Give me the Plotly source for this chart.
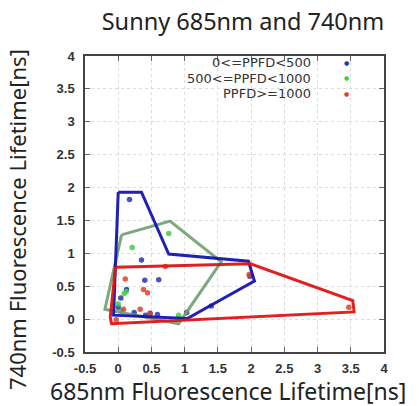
import plotly.graph_objects as go

# ---- data ----
blue_x = [0.17, 0.35, 0.40, 0.61, 0.125, 0.04, 0.0, 0.24, 0.41, 0.59, 1.03, 1.40, 1.98, 0.48]
blue_y = [1.82, 0.90, 0.59, 0.60, 0.45, 0.32, 0.18, 0.10, 0.06, 0.07, 0.10, 0.20, 0.65, 0.09]
green_x = [0.21, 0.76, 0.09, 0.0, 0.91, 0.12, 0.05]
green_y = [1.09, 1.30, 0.39, 0.23, 0.06, 0.42, 0.12]
red_x = [0.71, 0.106, 0.38, 0.44, 0.08, 0.33, 0.48, 3.47, 1.97, -0.03]
red_y = [0.80, 0.61, 0.45, 0.40, 0.15, 0.15, 0.07, 0.18, 0.68, -0.01]

blue_hull_x = [0.0, 0.35, 0.76, 1.96, 2.05, 1.04, -0.07, 0.0]
blue_hull_y = [1.93, 1.93, 0.99, 0.88, 0.58, 0.01, 0.06, 1.93]
green_hull_x = [0.05, 0.78, 1.55, 0.91, -0.20, 0.05]
green_hull_y = [1.28, 1.49, 0.87, -0.07, 0.15, 1.28]
red_hull_x = [-0.04, 1.99, 3.53, 3.55, -0.10, -0.12, -0.04]
red_hull_y = [0.79, 0.84, 0.28, 0.11, -0.07, 0.03, 0.79]

legend_labels = ["0<=PPFD<500", "500<=PPFD<1000", "PPFD>=1000"]
x_ticks = [-0.5, 0, 0.5, 1, 1.5, 2, 2.5, 3, 3.5, 4]
y_ticks = [-0.5, 0, 0.5, 1, 1.5, 2, 2.5, 3, 3.5, 4]

BLUE, GREEN, RED = "#2a35b0", "#3fcf3f", "#e0402a"
colors = [BLUE, GREEN, RED]

W, H = 419, 406
ML, MR, MT, MB = 85, 35, 56, 54
PW, PH = W - ML - MR, H - MT - MB

fig = go.Figure()
for xs, ys, c in [(blue_x, blue_y, BLUE), (green_x, green_y, GREEN), (red_x, red_y, RED)]:
    fig.add_trace(go.Scatter(x=xs, y=ys, mode="markers",
                             marker=dict(color=c, size=5.5, opacity=0.85),
                             showlegend=False, hoverinfo="skip"))
for xs, ys, c in [(green_hull_x, green_hull_y, "rgba(110,160,110,0.9)"),
                  (blue_hull_x, blue_hull_y, "rgba(20,20,175,0.95)"),
                  (red_hull_x, red_hull_y, "rgba(225,20,20,0.95)")]:
    fig.add_trace(go.Scatter(x=xs, y=ys, mode="lines",
                             line=dict(color=c, width=3),
                             showlegend=False, hoverinfo="skip"))

# legend drawn as text annotations (labels right-aligned, markers on the right)
for i, (lab, c) in enumerate(zip(legend_labels, colors)):
    ypix = 62 + i * 15.6
    ypos = 1 - (ypix - MT) / PH
    fig.add_annotation(xref="paper", yref="paper", x=(312 - ML) / PW, y=ypos, text=lab,
                       showarrow=False, xanchor="right", yanchor="middle",
                       height=14, borderpad=0,
                       font=dict(family="DejaVu Sans", size=13, color="#333"))
    fig.add_annotation(xref="paper", yref="paper", x=(346 - ML) / PW, y=ypos, text="●",
                       showarrow=False, xanchor="center", yanchor="middle",
                       font=dict(family="DejaVu Sans", size=6, color=c))

# axis titles as annotations
fig.add_annotation(xref="paper", yref="paper", x=(228 - ML) / PW, y=-(391 - (H - MB)) / PH,
                   text="685nm Fluorescence Lifetime[ns]", showarrow=False,
                   xanchor="center", yanchor="middle",
                   font=dict(family="Noto Sans", size=23, color="#222"))
fig.add_annotation(xref="paper", yref="paper", x=-(ML - 17) / PW, y=(H - MB - 220) / PH,
                   text="740nm Fluorescence Lifetime[ns]", showarrow=False, textangle=-90,
                   xanchor="center", yanchor="middle",
                   font=dict(family="Noto Sans", size=22, color="#222"))

axis_common = dict(showline=True, linecolor="#444", linewidth=1.5, mirror="ticks",
                   ticks="inside", ticklen=5, tickcolor="#666",
                   showgrid=True, gridcolor="#dcdcdc", griddash="dot", gridwidth=1,
                   zeroline=False, automargin=False,
                   tickfont=dict(family="Liberation Sans", size=13, color="#333", weight="bold"))

fig.update_layout(
    width=W, height=H,
    margin=dict(l=ML, r=MR, t=MT, b=MB),
    paper_bgcolor="white", plot_bgcolor="white",
    title=dict(text="Sunny 685nm and 740nm", x=243 / W, xanchor="center", y=1 - 22 / H, yanchor="middle",
               font=dict(family="Noto Sans", size=23.5, color="#222")),
    xaxis=dict(range=[-0.5, 4], tickvals=x_ticks, ticktext=[f"{v:g}" for v in x_ticks],
               ticklabelstandoff=4, **axis_common),
    yaxis=dict(range=[-0.5, 4], tickvals=y_ticks, ticktext=[f"{v:g}" for v in y_ticks],
               ticklabelstandoff=6, **axis_common),
)

fig.write_html("out.html", config={"displayModeBar": False},
               post_script="document.body.style.margin='0';document.body.style.overflow='hidden';")
